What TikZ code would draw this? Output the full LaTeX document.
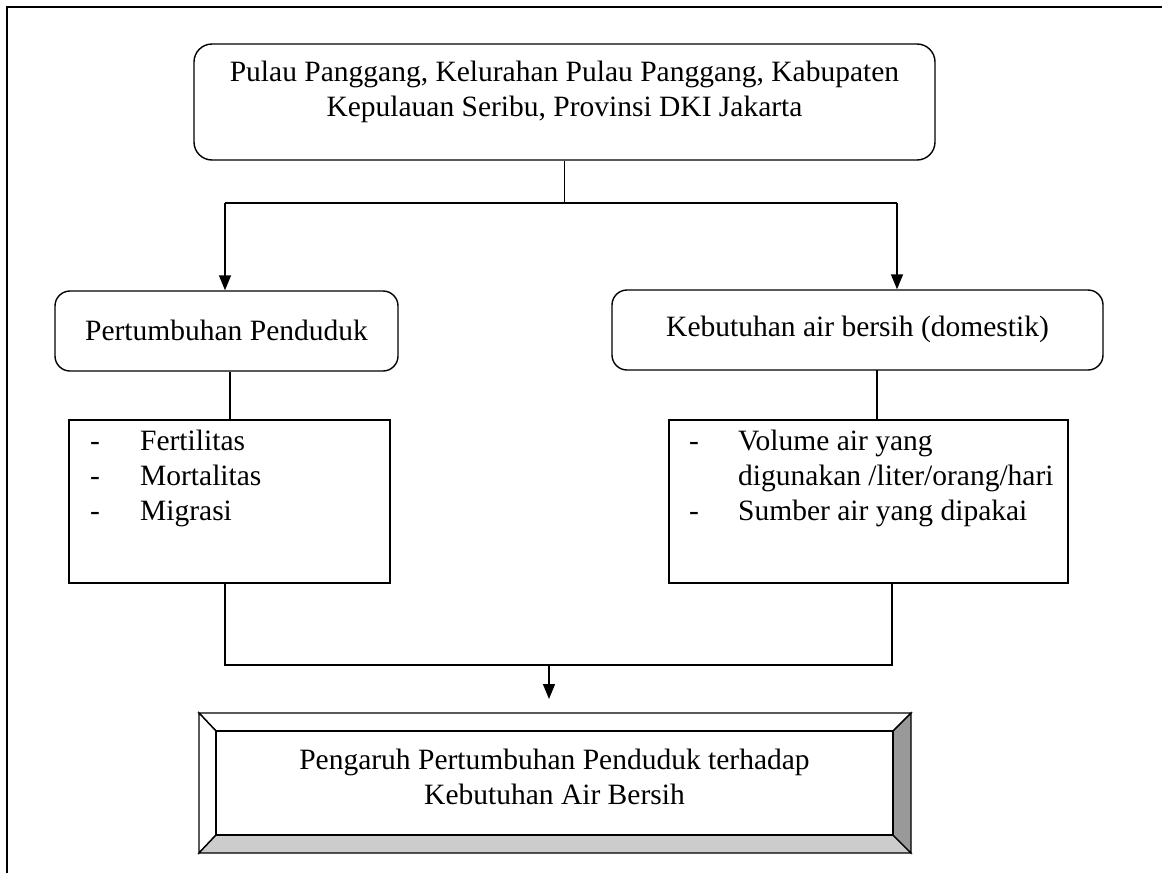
\documentclass[tikz,border=0pt]{standalone}
\usepackage{fontspec}
\setmainfont{Liberation Serif}
\usetikzlibrary{arrows.meta,calc}
\tikzset{
  ln/.style={line width=1.4pt},
  arr/.style={ln,-{Triangle[length=15pt,width=12pt]}},
  rbox/.style={draw,ln,rounded corners=18pt,inner sep=0pt},
  sbox/.style={draw,ln,inner sep=0pt},
  txt/.style={font=\fontsize{29.5}{35}\selectfont,align=center,inner sep=0pt},
}
\begin{document}
\begin{tikzpicture}[x=1pt,y=-1pt]
\useasboundingbox (0,0) rectangle (1162,873);
% frame
\draw[ln] (7,873) -- (7,7) -- (1162,7);
% top box
\node[rbox,minimum width=741pt,minimum height=116pt] (top) at (564.5,102) {};
\node[txt] (toptxt) at (564.5,92) {Pulau Panggang, Kelurahan Pulau Panggang, Kabupaten\\Kepulauan Seribu, Provinsi DKI Jakarta};
% second level
\node[rbox,rounded corners=15pt,minimum width=343pt,minimum height=80pt] (pp) at (226.5,331) {};
\node[txt] (pptxt) at (226.5,330) {Pertumbuhan Penduduk};
\node[rbox,rounded corners=15pt,minimum width=491pt,minimum height=80pt] (kab) at (857.5,330) {};
\node[txt] (kabtxt) at (857.5,329) {Kebutuhan air bersih (domestik)};
% lists
\node[sbox,minimum width=321pt,minimum height=163pt] (lr) at (229.5,501.5) {};
\node[txt,anchor=north west,align=left] (lrtxt) at (90,426) {\begin{tabular}{@{}p{50pt}@{}l@{}}-&Fertilitas\\-&Mortalitas\\-&Migrasi\end{tabular}};
\node[sbox,minimum width=399pt,minimum height=163pt] (rr) at (868.5,501.5) {};
\node[txt,anchor=north west,align=left] (rrtxt) at (689,426) {\begin{tabular}{@{}p{49pt}@{}l@{}}-&Volume air yang\\&digunakan /liter/orang/hari\\-&Sumber air yang dipakai\end{tabular}};
% bottom bevel box
\coordinate (o1) at (199,713); \coordinate (o2) at (911,713);
\coordinate (o3) at (911,853); \coordinate (o4) at (199,853);
\coordinate (i1) at (216,731); \coordinate (i2) at (893,731);
\coordinate (i3) at (893,835); \coordinate (i4) at (216,835);
\filldraw[ln,fill=white] (o1) -- (o2) -- (i2) -- (i1) -- cycle;
\filldraw[ln,fill=white] (o1) -- (i1) -- (i4) -- (o4) -- cycle;
\filldraw[ln,fill=black!20] (o4) -- (i4) -- (i3) -- (o3) -- cycle;
\filldraw[ln,fill=black!40] (o2) -- (o3) -- (i3) -- (i2) -- cycle;
\node[sbox,minimum width=677pt,minimum height=104pt] (res) at (554.5,783) {};
\node[txt] (restxt) at (554.5,777) {Pengaruh Pertumbuhan Penduduk terhadap\\Kebutuhan Air Bersih};
% connectors
\coordinate (j) at (564.5,203);
\coordinate (jl) at (225,203);
\coordinate (jr) at (897,203);
\draw[ln] (top.south) -- (j);
\draw[ln] (jl) -- (jr);
\draw[arr] (jl) -- (jl |- pp.north);
\draw[arr] (jr) -- (jr |- kab.north);
\draw[ln] (230,372) coordinate (a1) -- (a1 |- lr.north);
\draw[ln] (877,370) coordinate (a2) -- (a2 |- rr.north);
\coordinate (bl) at (225,665);
\coordinate (br) at (892,665);
\coordinate (bm) at (549,665);
\coordinate (bt) at (549,699);
\draw[ln] (bl |- lr.south) -- (bl) -- (br) -- (br |- rr.south);
\draw[arr] (bm) -- (bt);
\end{tikzpicture}
\end{document}
